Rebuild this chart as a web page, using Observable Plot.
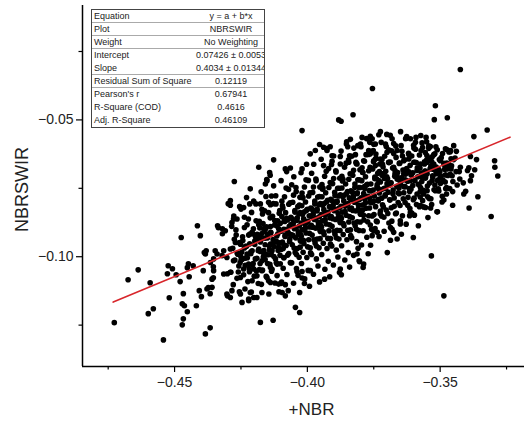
<!DOCTYPE html>
<html><head><meta charset="utf-8">
<script src="https://cdn.jsdelivr.net/npm/d3@7"></script>
<script src="https://cdn.jsdelivr.net/npm/@observablehq/plot@0.6"></script>
<style>
body{margin:0;background:#fff;}
#wrap{position:relative;width:526px;height:427px;overflow:hidden;font-family:"Liberation Sans",Arial,sans-serif;}
#stats{position:absolute;left:91px;top:9px;width:172px;border:1px solid #444;background:#fff;font-size:9px;color:#222;overflow:hidden;}
#stats .row{position:relative;height:13px;line-height:13px;box-sizing:border-box;}
#stats .row.sep{border-bottom:1px solid #aaa;}
#stats .lab{position:absolute;left:2px;white-space:nowrap;}
#stats .val{position:absolute;left:139px;transform:translateX(-50%);white-space:nowrap;}
</style></head>
<body>
<div id="wrap"><div id="chart"></div><div id="stats"></div></div>
<script>
// ---- fit report ----
const tableLabels = ["Equation","Plot","Weight","Intercept","Slope","Residual Sum of Square","Pearson's r","R-Square (COD)","Adj. R-Square"];
const tableValues = ["y = a + b*x","NBRSWIR","No Weighting","0.07426 \u00b1 0.0053","0.4034 \u00b1 0.01344","0.12119","0.67941","0.4616","0.46109"];
const tableSeparators = [0,1,2,4,5];
const fitIntercept = 0.07426;
const fitSlope = 0.4034;
const fitRange = [-0.4731, -0.3237];

// ---- axes ----
const xMajor = [-0.45, -0.40, -0.35];
const xMinor = [-0.475, -0.425, -0.375, -0.325];
const yMajor = [-0.10, -0.05];
const yMinor = [-0.125, -0.075, -0.025];
const xTitle = "+NBR";
const yTitle = "NBRSWIR";

// ---- scatter points ----
const leftX = [
-0.4727,-0.4675,-0.4637,-0.4592,-0.4599,-0.4580,-0.4542,-0.4520,-0.4524,-0.4527,
-0.4508,-0.4475,-0.4494,-0.4479,-0.4467,-0.4471,-0.4463,-0.4452,-0.4467,-0.4471,
-0.4452,-0.4445,-0.4448,-0.4430,-0.4418,-0.4414,-0.4403,-0.4407,-0.4399,-0.4384,
-0.4366,-0.4392,-0.4388,-0.4381,-0.4373,-0.4366,-0.4354,-0.4354,-0.4347,-0.4335,
-0.4320,-0.4320,-0.4301,-0.4298,-0.4301];
const leftY = [
-0.1241,-0.1084,-0.1048,-0.1095,-0.1208,-0.1190,-0.1304,-0.1150,-0.1033,-0.1062,
-0.1044,-0.0930,-0.1066,-0.1091,-0.1135,-0.1172,-0.1179,-0.1201,-0.1227,-0.1249,
-0.1040,-0.1073,-0.1026,-0.1033,-0.1179,-0.0887,-0.0923,-0.1124,-0.1146,-0.1282,
-0.1260,-0.1051,-0.0985,-0.0978,-0.1113,-0.1135,-0.1077,-0.1037,-0.0978,-0.0894,
-0.0898,-0.0916,-0.1143,-0.0806,-0.1062];

const lowLeftX = [
-0.4255,-0.4217,-0.4177,-0.4139,-0.4338,-0.4284,-0.4265,-0.4237,-0.4227,-0.4183,
-0.4208,-0.4177,-0.4150,-0.4271,-0.4252,-0.4290,-0.4315,-0.4340,-0.4384,-0.4353,
-0.4365,-0.4321,-0.4303,-0.4278,-0.4252,-0.4227,-0.4208,-0.4196,-0.4221,-0.4171,
-0.4158,-0.4133,-0.4108,-0.4089,-0.4114,-0.4139,-0.4171,-0.4202,-0.4240,-0.4252,
-0.4290,-0.4315,-0.4353,-0.4359,-0.4378,-0.4359,-0.4303,-0.4284,-0.4290,-0.4252,
-0.4246,-0.4215,-0.4221,-0.4190,-0.4171,-0.4139,-0.4108,-0.4083,-0.4177,-0.4129,
-0.4152,-0.4208,-0.4190];
const lowLeftY = [
-0.0817,-0.0807,-0.0807,-0.0810,-0.0887,-0.0875,-0.0862,-0.0856,-0.0883,-0.0883,
-0.0911,-0.0923,-0.0917,-0.0948,-0.0954,-0.0972,-0.0978,-0.0990,-0.0990,-0.1008,
-0.1021,-0.0996,-0.1003,-0.1015,-0.0996,-0.0990,-0.0978,-0.1008,-0.1027,-0.1015,
-0.0990,-0.0978,-0.0966,-0.1003,-0.1027,-0.1039,-0.1051,-0.1045,-0.1045,-0.1076,
-0.1057,-0.1063,-0.1051,-0.1082,-0.1118,-0.1112,-0.1136,-0.1124,-0.1149,-0.1136,
-0.1167,-0.1131,-0.1155,-0.1149,-0.1131,-0.1094,-0.1100,-0.1143,-0.1240,-0.1232,
-0.1076,-0.1088,-0.1070];

const lowMidX = [
-0.4039,-0.4020,-0.3989,-0.4020,-0.4011,-0.4099,-0.4083,-0.4095,-0.4045,-0.4029,
-0.3935,-0.3872,-0.3876,-0.4146,-0.4202,-0.4221,-0.3813,-0.3788,-0.3805,-0.3790];
const lowMidY = [
-0.1054,-0.1054,-0.1051,-0.1078,-0.1098,-0.1098,-0.1102,-0.1131,-0.1185,-0.1204,
-0.1082,-0.1066,-0.1045,-0.1088,-0.1149,-0.1161,-0.0990,-0.1027,-0.1015,-0.1039];

const rightX = [
-0.3424,-0.3755,-0.3518,-0.3522,-0.3473,-0.3323,-0.3373,-0.3295,-0.3294,-0.3283,
-0.3308,-0.3358,-0.3391,-0.3386,-0.3363,-0.3392,-0.3370,-0.3382,-0.3413,-0.3404,
-0.3411,-0.3436,-0.3453,-0.3486,-0.3533,-0.3601,-0.3699,-0.3428,-0.3439,-0.3461,
-0.3459,-0.3480,-0.3486,-0.3468,-0.3471,-0.3510,-0.3476,-0.3492,-0.3486,-0.3499,
-0.3509,-0.3514,-0.3505,-0.3524,-0.3530,-0.3543,-0.3511,-0.3550,-0.3573,-0.3593,
-0.3593,-0.3630,-0.3649,-0.3681,-0.3725,-0.3731,-0.3756];
const rightY = [
-0.0316,-0.0385,-0.0448,-0.0499,-0.0492,-0.0537,-0.0561,-0.0649,-0.0673,-0.0705,
-0.0853,-0.0781,-0.0822,-0.0634,-0.0645,-0.0675,-0.0682,-0.0704,-0.0730,-0.0761,
-0.0771,-0.0738,-0.0812,-0.1143,-0.0997,-0.0930,-0.0985,-0.0689,-0.0615,-0.0612,
-0.0642,-0.0606,-0.0659,-0.0673,-0.0703,-0.0836,-0.0771,-0.0779,-0.0793,-0.0732,
-0.0722,-0.0697,-0.0681,-0.0661,-0.0635,-0.0604,-0.0609,-0.0630,-0.0557,-0.0582,
-0.0607,-0.0569,-0.0543,-0.0569,-0.0543,-0.0554,-0.0569];

const midRightX = [
-0.3555,-0.3536,-0.3675,-0.3687,-0.3650,-0.3750,-0.3737,-0.3756,-0.3712,-0.3612,
-0.3615,-0.3574,-0.3566,-0.3476,-0.3518,-0.3549,-0.3574,-0.3562,-0.3556,-0.3424,
-0.3499,-0.3549,-0.3744,-0.3752,-0.3706,-0.3700,-0.3662,-0.3637,-0.3618,-0.3599,
-0.3574,-0.3750,-0.3725,-0.3694,-0.3675,-0.3397,-0.3386,-0.3455,-0.3474,-0.3499,
-0.3530,-0.3518,-0.3549,-0.3568,-0.3587,-0.3612,-0.3637,-0.3662];
const midRightY = [
-0.0820,-0.0822,-0.0911,-0.0893,-0.0880,-0.0905,-0.0911,-0.0923,-0.0856,-0.0838,
-0.0850,-0.0813,-0.0795,-0.0747,-0.0759,-0.0759,-0.0747,-0.0771,-0.0619,-0.0673,
-0.0649,-0.0655,-0.0588,-0.0612,-0.0588,-0.0618,-0.0612,-0.0649,-0.0643,-0.0655,
-0.0661,-0.0649,-0.0643,-0.0655,-0.0673,-0.0685,-0.0722,-0.0704,-0.0679,-0.0710,
-0.0722,-0.0685,-0.0697,-0.0710,-0.0685,-0.0722,-0.0697,-0.0716];

const topX = [
-0.3828,-0.3882,-0.3873,-0.4020,-0.4127,-0.3954,-0.3970,-0.3939,-0.3926,-0.3907,
-0.3876,-0.3907,-0.3853,-0.3848,-0.3841,-0.3819,-0.3800,-0.3794,-0.3775,-0.3765,
-0.3769,-0.3763,-0.3744,-0.3788,-0.4083,-0.4020,-0.3939,-0.3876,-0.3844,-0.3813,
-0.3744,-0.4275,-0.4183,-0.4142,-0.4152,-0.4158,-0.3810,-0.4290,-0.4240,-0.4278,
-0.4309];
const topY = [
-0.0481,-0.0500,-0.0505,-0.0539,-0.0646,-0.0590,-0.0612,-0.0600,-0.0612,-0.0631,
-0.0634,-0.0651,-0.0588,-0.0598,-0.0631,-0.0627,-0.0588,-0.0564,-0.0569,-0.0582,
-0.0612,-0.0624,-0.0643,-0.0649,-0.0679,-0.0679,-0.0667,-0.0661,-0.0655,-0.0661,
-0.0667,-0.0725,-0.0673,-0.0692,-0.0722,-0.0734,-0.0594,-0.0795,-0.0820,-0.0862,
-0.0905];

const coreX = [
-0.4290,-0.4277,-0.4285,-0.4268,-0.4254,-0.4281,-0.4262,-0.4273,-0.4258,-0.4288,-0.4265,-0.4279,-0.4256,-0.4275,
-0.4229,-0.4250,-0.4222,-0.4237,-0.4216,-0.4243,-0.4233,-0.4247,-0.4226,-0.4253,-0.4219,-0.4240,-0.4224,-0.4235,-0.4217,-0.4245,
-0.4215,-0.4202,-0.4210,-0.4193,-0.4179,-0.4206,-0.4187,-0.4198,-0.4183,-0.4213,-0.4190,-0.4204,-0.4181,-0.4200,-0.4185,-0.4211,-0.4195,-0.4177,
-0.4153,-0.4174,-0.4146,-0.4161,-0.4140,-0.4167,-0.4157,-0.4171,-0.4150,-0.4177,-0.4143,-0.4164,-0.4148,-0.4159,-0.4141,-0.4169,-0.4155,-0.4173,-0.4145,-0.4163,-0.4139,-0.4166,
-0.4140,-0.4127,-0.4135,-0.4118,-0.4104,-0.4131,-0.4112,-0.4123,-0.4108,-0.4138,-0.4115,-0.4129,-0.4106,-0.4125,-0.4110,-0.4136,-0.4120,-0.4102,-0.4133,-0.4114,-0.4122,-0.4107,-0.4139,-0.4117,-0.4111,
-0.4078,-0.4099,-0.4071,-0.4086,-0.4065,-0.4092,-0.4082,-0.4096,-0.4075,-0.4102,-0.4068,-0.4089,-0.4073,-0.4084,-0.4066,-0.4094,-0.4080,-0.4098,-0.4070,-0.4088,-0.4064,-0.4091,-0.4077,-0.4097,-0.4072,-0.4085,-0.4067,-0.4093,
-0.4064,-0.4051,-0.4059,-0.4042,-0.4028,-0.4055,-0.4036,-0.4047,-0.4032,-0.4062,-0.4039,-0.4053,-0.4030,-0.4049,-0.4034,-0.4060,-0.4044,-0.4026,-0.4057,-0.4038,-0.4046,-0.4031,-0.4063,-0.4041,-0.4035,-0.4052,-0.4029,-0.4056,-0.4043,-0.4027,
-0.4003,-0.4024,-0.3996,-0.4011,-0.3990,-0.4017,-0.4007,-0.4021,-0.4000,-0.4027,-0.3993,-0.4014,-0.3998,-0.4009,-0.3991,-0.4019,-0.4005,-0.4023,-0.3995,-0.4013,-0.3989,-0.4016,-0.4002,-0.4022,-0.3997,-0.4010,-0.3992,-0.4018,-0.4004,-0.4026,
-0.3989,-0.3976,-0.3984,-0.3967,-0.3953,-0.3980,-0.3961,-0.3972,-0.3957,-0.3987,-0.3964,-0.3978,-0.3955,-0.3974,-0.3959,-0.3985,-0.3969,-0.3951,-0.3982,-0.3963,-0.3971,-0.3956,-0.3988,-0.3966,-0.3960,-0.3977,-0.3954,-0.3981,-0.3968,-0.3952,
-0.3927,-0.3948,-0.3920,-0.3935,-0.3914,-0.3941,-0.3931,-0.3945,-0.3924,-0.3951,-0.3917,-0.3938,-0.3922,-0.3933,-0.3915,-0.3943,-0.3929,-0.3947,-0.3919,-0.3937,-0.3913,-0.3940,-0.3926,-0.3946,-0.3921,-0.3934,-0.3916,-0.3942,-0.3928,-0.3950,
-0.3914,-0.3901,-0.3909,-0.3892,-0.3878,-0.3905,-0.3886,-0.3897,-0.3882,-0.3912,-0.3889,-0.3903,-0.3880,-0.3899,-0.3884,-0.3910,-0.3894,-0.3876,-0.3907,-0.3888,-0.3896,-0.3881,-0.3913,-0.3891,-0.3885,-0.3902,-0.3879,-0.3906,-0.3893,-0.3877,
-0.3852,-0.3873,-0.3845,-0.3860,-0.3839,-0.3866,-0.3856,-0.3870,-0.3849,-0.3876,-0.3842,-0.3863,-0.3847,-0.3858,-0.3840,-0.3868,-0.3854,-0.3872,-0.3844,-0.3862,-0.3838,-0.3865,-0.3851,-0.3871,-0.3846,-0.3859,-0.3841,-0.3867,-0.3853,-0.3875,
-0.3838,-0.3825,-0.3833,-0.3816,-0.3802,-0.3829,-0.3810,-0.3821,-0.3806,-0.3836,-0.3813,-0.3827,-0.3804,-0.3823,-0.3808,-0.3834,-0.3818,-0.3800,-0.3831,-0.3812,-0.3820,-0.3805,-0.3837,-0.3815,-0.3809,-0.3826,-0.3803,-0.3830,-0.3817,-0.3801,
-0.3777,-0.3798,-0.3770,-0.3785,-0.3764,-0.3791,-0.3781,-0.3795,-0.3774,-0.3801,-0.3767,-0.3788,-0.3772,-0.3783,-0.3765,-0.3793,-0.3779,-0.3797,-0.3769,-0.3787,-0.3763,-0.3790,-0.3776,-0.3796,-0.3771,-0.3784,-0.3766,-0.3792,
-0.3763,-0.3750,-0.3758,-0.3741,-0.3727,-0.3754,-0.3735,-0.3746,-0.3731,-0.3761,-0.3738,-0.3752,-0.3729,-0.3748,-0.3733,-0.3759,-0.3743,-0.3725,-0.3756,-0.3737,-0.3745,-0.3730,-0.3762,-0.3740,-0.3734,-0.3751,
-0.3701,-0.3722,-0.3694,-0.3709,-0.3688,-0.3715,-0.3705,-0.3719,-0.3698,-0.3725,-0.3691,-0.3712,-0.3696,-0.3707,-0.3689,-0.3717,-0.3703,-0.3721,-0.3693,-0.3711,-0.3687,-0.3714,-0.3700,-0.3720,
-0.3688,-0.3675,-0.3683,-0.3666,-0.3652,-0.3679,-0.3660,-0.3671,-0.3656,-0.3686,-0.3663,-0.3677,-0.3654,-0.3673,-0.3658,-0.3684,-0.3668,-0.3650,-0.3681,-0.3662,-0.3670,-0.3655,
-0.3626,-0.3647,-0.3619,-0.3634,-0.3613,-0.3640,-0.3630,-0.3644,-0.3623,-0.3650,-0.3616,-0.3637,-0.3621,-0.3632,-0.3614,-0.3642,-0.3628,-0.3646,-0.3618,-0.3636,
-0.3612,-0.3599,-0.3607,-0.3590,-0.3576,-0.3603,-0.3584,-0.3595,-0.3580,-0.3610,-0.3587,-0.3601,-0.3578,-0.3597,-0.3582,-0.3608,
-0.3551,-0.3572,-0.3544,-0.3559,-0.3538,-0.3565,-0.3555,-0.3569,-0.3548,-0.3575,-0.3541,-0.3562,-0.3546,-0.3557,
-0.3537,-0.3524,-0.3532,-0.3515,-0.3501,-0.3528,-0.3509,-0.3520,-0.3505,-0.3535,-0.3512,-0.3526,
-0.3475,-0.3496,-0.3468,-0.3483,-0.3462,-0.3489,-0.3479,-0.3493,
-0.3462,-0.3449,-0.3457,-0.3440,-0.3426,-0.3453];
const coreY = [
-0.0812,-0.0851,-0.0889,-0.0921,-0.0948,-0.0969,-0.0991,-0.1012,-0.1034,-0.1057,-0.1079,-0.1102,-0.1128,-0.0936,
-0.0784,-0.0826,-0.0862,-0.0893,-0.0917,-0.0941,-0.0962,-0.0983,-0.1004,-0.1021,-0.1043,-0.1066,-0.1091,-0.1118,-0.0953,-0.1009,
-0.0752,-0.0797,-0.0838,-0.0869,-0.0895,-0.0917,-0.0936,-0.0955,-0.0972,-0.0989,-0.1006,-0.1025,-0.1047,-0.1071,-0.1098,-0.1129,-0.0928,-0.0981,
-0.0718,-0.0763,-0.0801,-0.0832,-0.0858,-0.0879,-0.0898,-0.0915,-0.0931,-0.0946,-0.0961,-0.0977,-0.0993,-0.1010,-0.1028,-0.1049,-0.1072,-0.1101,-0.1136,-0.0907,-0.0954,-0.0985,
-0.0702,-0.0741,-0.0778,-0.0807,-0.0831,-0.0852,-0.0869,-0.0884,-0.0898,-0.0911,-0.0924,-0.0937,-0.0950,-0.0963,-0.0977,-0.0992,-0.1008,-0.1026,-0.1046,-0.1069,-0.1096,-0.1128,-0.0890,-0.0944,-0.0916,
-0.0689,-0.0722,-0.0754,-0.0781,-0.0803,-0.0822,-0.0839,-0.0853,-0.0866,-0.0878,-0.0889,-0.0900,-0.0911,-0.0922,-0.0934,-0.0946,-0.0959,-0.0973,-0.0988,-0.1004,-0.1022,-0.1042,-0.1065,-0.1093,-0.1124,-0.0871,-0.0917,-0.0951,
-0.0676,-0.0708,-0.0737,-0.0762,-0.0783,-0.0801,-0.0817,-0.0831,-0.0844,-0.0856,-0.0867,-0.0878,-0.0888,-0.0898,-0.0909,-0.0920,-0.0931,-0.0943,-0.0956,-0.0970,-0.0985,-0.1002,-0.1021,-0.1043,-0.1068,-0.1097,-0.1131,-0.0862,-0.0893,-0.0938,
-0.0662,-0.0693,-0.0721,-0.0745,-0.0766,-0.0784,-0.0800,-0.0814,-0.0827,-0.0839,-0.0850,-0.0861,-0.0871,-0.0881,-0.0891,-0.0902,-0.0913,-0.0925,-0.0938,-0.0952,-0.0967,-0.0984,-0.1003,-0.1025,-0.1050,-0.1081,-0.1108,-0.0845,-0.0876,-0.0919,
-0.0624,-0.0662,-0.0695,-0.0722,-0.0745,-0.0765,-0.0782,-0.0797,-0.0810,-0.0822,-0.0833,-0.0844,-0.0854,-0.0864,-0.0874,-0.0885,-0.0896,-0.0908,-0.0921,-0.0935,-0.0950,-0.0967,-0.0986,-0.1008,-0.1034,-0.1064,-0.1092,-0.0828,-0.0859,-0.0903,
-0.0605,-0.0644,-0.0678,-0.0706,-0.0729,-0.0749,-0.0766,-0.0781,-0.0794,-0.0806,-0.0817,-0.0828,-0.0838,-0.0848,-0.0858,-0.0869,-0.0880,-0.0892,-0.0905,-0.0919,-0.0934,-0.0951,-0.0970,-0.0992,-0.1017,-0.1046,-0.1073,-0.0812,-0.0843,-0.0886,
-0.0598,-0.0632,-0.0663,-0.0690,-0.0713,-0.0733,-0.0750,-0.0765,-0.0778,-0.0790,-0.0801,-0.0812,-0.0822,-0.0832,-0.0842,-0.0853,-0.0864,-0.0876,-0.0889,-0.0903,-0.0918,-0.0935,-0.0954,-0.0976,-0.1001,-0.1030,-0.1058,-0.0796,-0.0827,-0.0871,
-0.0580,-0.0614,-0.0646,-0.0673,-0.0697,-0.0717,-0.0734,-0.0749,-0.0762,-0.0774,-0.0785,-0.0796,-0.0806,-0.0816,-0.0826,-0.0837,-0.0848,-0.0860,-0.0873,-0.0887,-0.0902,-0.0919,-0.0938,-0.0960,-0.0985,-0.1012,-0.1038,-0.0780,-0.0811,-0.0855,
-0.0571,-0.0603,-0.0633,-0.0659,-0.0682,-0.0702,-0.0719,-0.0734,-0.0747,-0.0759,-0.0770,-0.0781,-0.0791,-0.0801,-0.0811,-0.0822,-0.0833,-0.0845,-0.0858,-0.0872,-0.0887,-0.0904,-0.0923,-0.0945,-0.0969,-0.0995,-0.1018,-0.0765,-0.0796,-0.0840,
-0.0568,-0.0598,-0.0626,-0.0651,-0.0673,-0.0692,-0.0708,-0.0722,-0.0735,-0.0747,-0.0758,-0.0769,-0.0779,-0.0789,-0.0800,-0.0811,-0.0823,-0.0836,-0.0850,-0.0866,-0.0884,-0.0905,-0.0929,-0.0957,-0.0989,-0.0752,-0.0784,-0.0829,
-0.0560,-0.0589,-0.0616,-0.0640,-0.0661,-0.0679,-0.0695,-0.0709,-0.0722,-0.0734,-0.0745,-0.0756,-0.0767,-0.0778,-0.0790,-0.0803,-0.0817,-0.0833,-0.0851,-0.0872,-0.0897,-0.0926,-0.0958,-0.0715,-0.0750,-0.0797,
-0.0553,-0.0582,-0.0609,-0.0633,-0.0654,-0.0672,-0.0688,-0.0702,-0.0715,-0.0727,-0.0739,-0.0751,-0.0764,-0.0778,-0.0793,-0.0810,-0.0829,-0.0851,-0.0877,-0.0907,-0.0940,-0.0696,-0.0733,-0.0786,
-0.0556,-0.0586,-0.0613,-0.0637,-0.0658,-0.0676,-0.0692,-0.0706,-0.0719,-0.0731,-0.0743,-0.0756,-0.0770,-0.0785,-0.0802,-0.0821,-0.0843,-0.0869,-0.0900,-0.0935,-0.0697,-0.0749,
-0.0561,-0.0594,-0.0622,-0.0646,-0.0666,-0.0683,-0.0698,-0.0711,-0.0724,-0.0737,-0.0751,-0.0766,-0.0783,-0.0802,-0.0824,-0.0850,-0.0881,-0.0918,-0.0690,-0.0744,
-0.0569,-0.0603,-0.0632,-0.0656,-0.0676,-0.0693,-0.0708,-0.0722,-0.0737,-0.0753,-0.0771,-0.0792,-0.0817,-0.0848,-0.0887,-0.0700,
-0.0580,-0.0612,-0.0639,-0.0661,-0.0679,-0.0695,-0.0710,-0.0725,-0.0742,-0.0762,-0.0787,-0.0818,-0.0857,-0.0687,
-0.0597,-0.0627,-0.0652,-0.0672,-0.0689,-0.0704,-0.0720,-0.0738,-0.0760,-0.0788,-0.0836,-0.0680,
-0.0608,-0.0638,-0.0661,-0.0680,-0.0699,-0.0721,-0.0752,-0.0800,
-0.0616,-0.0645,-0.0668,-0.0689,-0.0716,-0.0762];

// dense band along the fit, between the columns above
const bandX = [
-0.4269,-0.4244,-0.4256,-0.4237,-0.4264,-0.4249,-0.4234,-0.4260,
-0.4203,-0.4221,-0.4198,-0.4229,-0.4213,-0.4234,-0.4206,-0.4218,
-0.4194,-0.4169,-0.4181,-0.4162,-0.4189,-0.4174,-0.4159,-0.4185,-0.4166,-0.4178,-0.4192,-0.4171,
-0.4128,-0.4146,-0.4123,-0.4154,-0.4138,-0.4159,-0.4131,-0.4143,-0.4126,-0.4150,-0.4135,-0.4156,
-0.4119,-0.4094,-0.4106,-0.4087,-0.4114,-0.4099,-0.4084,-0.4110,-0.4091,-0.4103,-0.4117,-0.4096,
-0.4052,-0.4070,-0.4047,-0.4078,-0.4062,-0.4083,-0.4055,-0.4067,-0.4050,-0.4074,-0.4059,-0.4080,
-0.4043,-0.4018,-0.4030,-0.4011,-0.4038,-0.4023,-0.4008,-0.4034,-0.4015,-0.4027,-0.4041,-0.4020,
-0.3977,-0.3995,-0.3972,-0.4003,-0.3987,-0.4008,-0.3980,-0.3992,-0.3975,-0.3999,-0.3984,-0.4005,
-0.3968,-0.3943,-0.3955,-0.3936,-0.3963,-0.3948,-0.3933,-0.3959,-0.3940,-0.3952,-0.3966,-0.3945,
-0.3901,-0.3919,-0.3896,-0.3927,-0.3911,-0.3932,-0.3904,-0.3916,-0.3899,-0.3923,-0.3908,-0.3929,
-0.3893,-0.3868,-0.3880,-0.3861,-0.3888,-0.3873,-0.3858,-0.3884,-0.3865,-0.3877,-0.3891,-0.3870,
-0.3826,-0.3844,-0.3821,-0.3852,-0.3836,-0.3857,-0.3829,-0.3841,-0.3824,-0.3848,-0.3833,-0.3854,
-0.3817,-0.3792,-0.3804,-0.3785,-0.3812,-0.3797,-0.3782,-0.3808,-0.3789,-0.3801,-0.3815,-0.3794,
-0.3751,-0.3769,-0.3746,-0.3777,-0.3761,-0.3782,-0.3754,-0.3766,-0.3749,-0.3773,-0.3758,-0.3779,
-0.3742,-0.3717,-0.3729,-0.3710,-0.3737,-0.3722,-0.3707,-0.3733,-0.3714,-0.3726,-0.3740,-0.3719,
-0.3675,-0.3693,-0.3670,-0.3701,-0.3685,-0.3706,-0.3678,-0.3690,-0.3673,-0.3697,-0.3682,-0.3703,
-0.3667,-0.3642,-0.3654,-0.3635,-0.3662,-0.3647,-0.3632,-0.3658,-0.3639,-0.3651,-0.3665,-0.3644,
-0.3600,-0.3618,-0.3595,-0.3626,-0.3610,-0.3631,-0.3603,-0.3615,-0.3598,-0.3622,-0.3607,-0.3628,
-0.3591,-0.3566,-0.3578,-0.3559,-0.3586,-0.3571,-0.3556,-0.3582,-0.3563,-0.3575,-0.3589,-0.3568,
-0.3525,-0.3543,-0.3520,-0.3551,-0.3535,-0.3556,-0.3528,-0.3540,-0.3523,-0.3547,-0.3532,-0.3553,
-0.3516,-0.3491,-0.3503,-0.3484,-0.3511,-0.3496,-0.3481,-0.3507,
-0.3449,-0.3467,-0.3444,-0.3475,-0.3459,-0.3480,-0.3452,-0.3464];
const bandY = [
-0.0902,-0.0927,-0.0949,-0.0968,-0.0987,-0.1009,-0.1031,-0.1056,
-0.0898,-0.0921,-0.0943,-0.0962,-0.0983,-0.1005,-0.1029,-0.1055,
-0.0807,-0.0844,-0.0871,-0.0896,-0.0918,-0.0937,-0.0956,-0.0978,-0.1000,-0.1025,-0.1052,-0.0827,
-0.0806,-0.0839,-0.0868,-0.0891,-0.0913,-0.0932,-0.0953,-0.0975,-0.0999,-0.1025,-0.1053,-0.0780,
-0.0777,-0.0814,-0.0841,-0.0866,-0.0888,-0.0907,-0.0926,-0.0948,-0.0970,-0.0995,-0.1022,-0.0797,
-0.0775,-0.0808,-0.0837,-0.0860,-0.0882,-0.0901,-0.0922,-0.0944,-0.0968,-0.0994,-0.1022,-0.0749,
-0.0747,-0.0784,-0.0811,-0.0836,-0.0858,-0.0877,-0.0896,-0.0918,-0.0940,-0.0965,-0.0992,-0.0767,
-0.0745,-0.0778,-0.0807,-0.0830,-0.0852,-0.0871,-0.0892,-0.0914,-0.0938,-0.0964,-0.0992,-0.0719,
-0.0716,-0.0753,-0.0780,-0.0805,-0.0827,-0.0846,-0.0865,-0.0887,-0.0909,-0.0934,-0.0961,-0.0736,
-0.0714,-0.0747,-0.0776,-0.0799,-0.0821,-0.0840,-0.0861,-0.0883,-0.0907,-0.0933,-0.0961,-0.0688,
-0.0686,-0.0723,-0.0750,-0.0775,-0.0797,-0.0816,-0.0835,-0.0857,-0.0879,-0.0904,-0.0931,-0.0706,
-0.0684,-0.0717,-0.0746,-0.0769,-0.0791,-0.0810,-0.0831,-0.0853,-0.0877,-0.0903,-0.0931,-0.0658,
-0.0655,-0.0692,-0.0719,-0.0744,-0.0766,-0.0785,-0.0804,-0.0826,-0.0848,-0.0873,-0.0900,-0.0675,
-0.0653,-0.0686,-0.0715,-0.0738,-0.0760,-0.0779,-0.0800,-0.0822,-0.0846,-0.0872,-0.0900,-0.0627,
-0.0625,-0.0662,-0.0689,-0.0714,-0.0736,-0.0755,-0.0774,-0.0796,-0.0818,-0.0843,-0.0870,-0.0645,
-0.0623,-0.0656,-0.0685,-0.0708,-0.0730,-0.0749,-0.0770,-0.0792,-0.0816,-0.0842,-0.0870,-0.0597,
-0.0595,-0.0632,-0.0659,-0.0684,-0.0706,-0.0725,-0.0744,-0.0766,-0.0788,-0.0813,-0.0840,-0.0615,
-0.0593,-0.0626,-0.0655,-0.0678,-0.0700,-0.0719,-0.0740,-0.0762,-0.0786,-0.0812,-0.0840,-0.0567,
-0.0564,-0.0601,-0.0628,-0.0653,-0.0675,-0.0694,-0.0713,-0.0735,-0.0757,-0.0782,-0.0809,-0.0584,
-0.0562,-0.0595,-0.0624,-0.0647,-0.0669,-0.0688,-0.0709,-0.0731,-0.0755,-0.0781,-0.0809,-0.0564,
-0.0598,-0.0623,-0.0645,-0.0664,-0.0683,-0.0705,-0.0727,-0.0752,
-0.0594,-0.0617,-0.0639,-0.0658,-0.0679,-0.0701,-0.0725,-0.0751];

// ---- build data ----
const groups = [[leftX,leftY],[lowLeftX,lowLeftY],[lowMidX,lowMidY],[rightX,rightY],[midRightX,midRightY],[topX,topY],[coreX,coreY],[bandX,bandY]];
const points = [];
for (const [gx, gy] of groups) {
  const n = Math.min(gx.length, gy.length);
  for (let i = 0; i < n; i++) points.push({nbr: gx[i], nbrswir: gy[i]});
}
const fitLine = fitRange.map(x => ({nbr: x, nbrswir: fitIntercept + fitSlope * x}));

const xDomain = [-0.48467, -0.31824];
const yDomain = [-0.14012, -0.00819];
const fmt = d3.format(".2f");
const font = '"Liberation Sans", Arial, sans-serif';

const chart = Plot.plot({
  width: 526, height: 427,
  marginLeft: 82, marginRight: 2, marginTop: 5, marginBottom: 61,
  style: {fontFamily: font, fontSize: "14px", color: "#222", background: "transparent"},
  x: {domain: xDomain},
  y: {domain: yDomain},
  marks: [
    Plot.dot(points, {x: "nbr", y: "nbrswir", r: 2.8, fill: "#000", stroke: "none"}),
    Plot.line(fitLine, {x: "nbr", y: "nbrswir", stroke: "#d8262b", strokeWidth: 1.6}),
    Plot.axisX({ticks: xMajor, tickSize: 6, tickPadding: 5, tickFormat: fmt, label: null, stroke: "#000", strokeWidth: 1.2}),
    Plot.axisX({ticks: xMinor, tickSize: 3.5, tickFormat: () => "", label: null, stroke: "#000", strokeWidth: 1.2}),
    Plot.axisY({ticks: yMajor, tickSize: 6, tickPadding: 3, tickFormat: fmt, label: null, stroke: "#000", strokeWidth: 1.2}),
    Plot.axisY({ticks: yMinor, tickSize: 3.5, tickFormat: () => "", label: null, stroke: "#000", strokeWidth: 1.2}),
    Plot.ruleY([yDomain[0]], {stroke: "#000", strokeWidth: 1.5}),
    Plot.ruleX([xDomain[0]], {stroke: "#000", strokeWidth: 1.5}),
    Plot.text([xTitle], {frameAnchor: "bottom", lineAnchor: "middle", textAnchor: "middle", dx: 8, dy: 43, fontSize: 17, fill: "#222"}),
    Plot.text([yTitle], {frameAnchor: "left", lineAnchor: "middle", textAnchor: "middle", dx: -60, dy: 3.5, rotate: -90, fontSize: 18, fill: "#222"})
  ]
});
document.getElementById("chart").appendChild(chart);

// ---- fit report table ----
const stats = document.getElementById("stats");
tableLabels.forEach((lab, i) => {
  const row = document.createElement("div");
  row.className = "row" + (tableSeparators.includes(i) ? " sep" : "");
  const l = document.createElement("span"); l.className = "lab"; l.textContent = lab;
  const v = document.createElement("span"); v.className = "val"; v.textContent = tableValues[i];
  row.appendChild(l); row.appendChild(v);
  stats.appendChild(row);
});
</script>
</body></html>
